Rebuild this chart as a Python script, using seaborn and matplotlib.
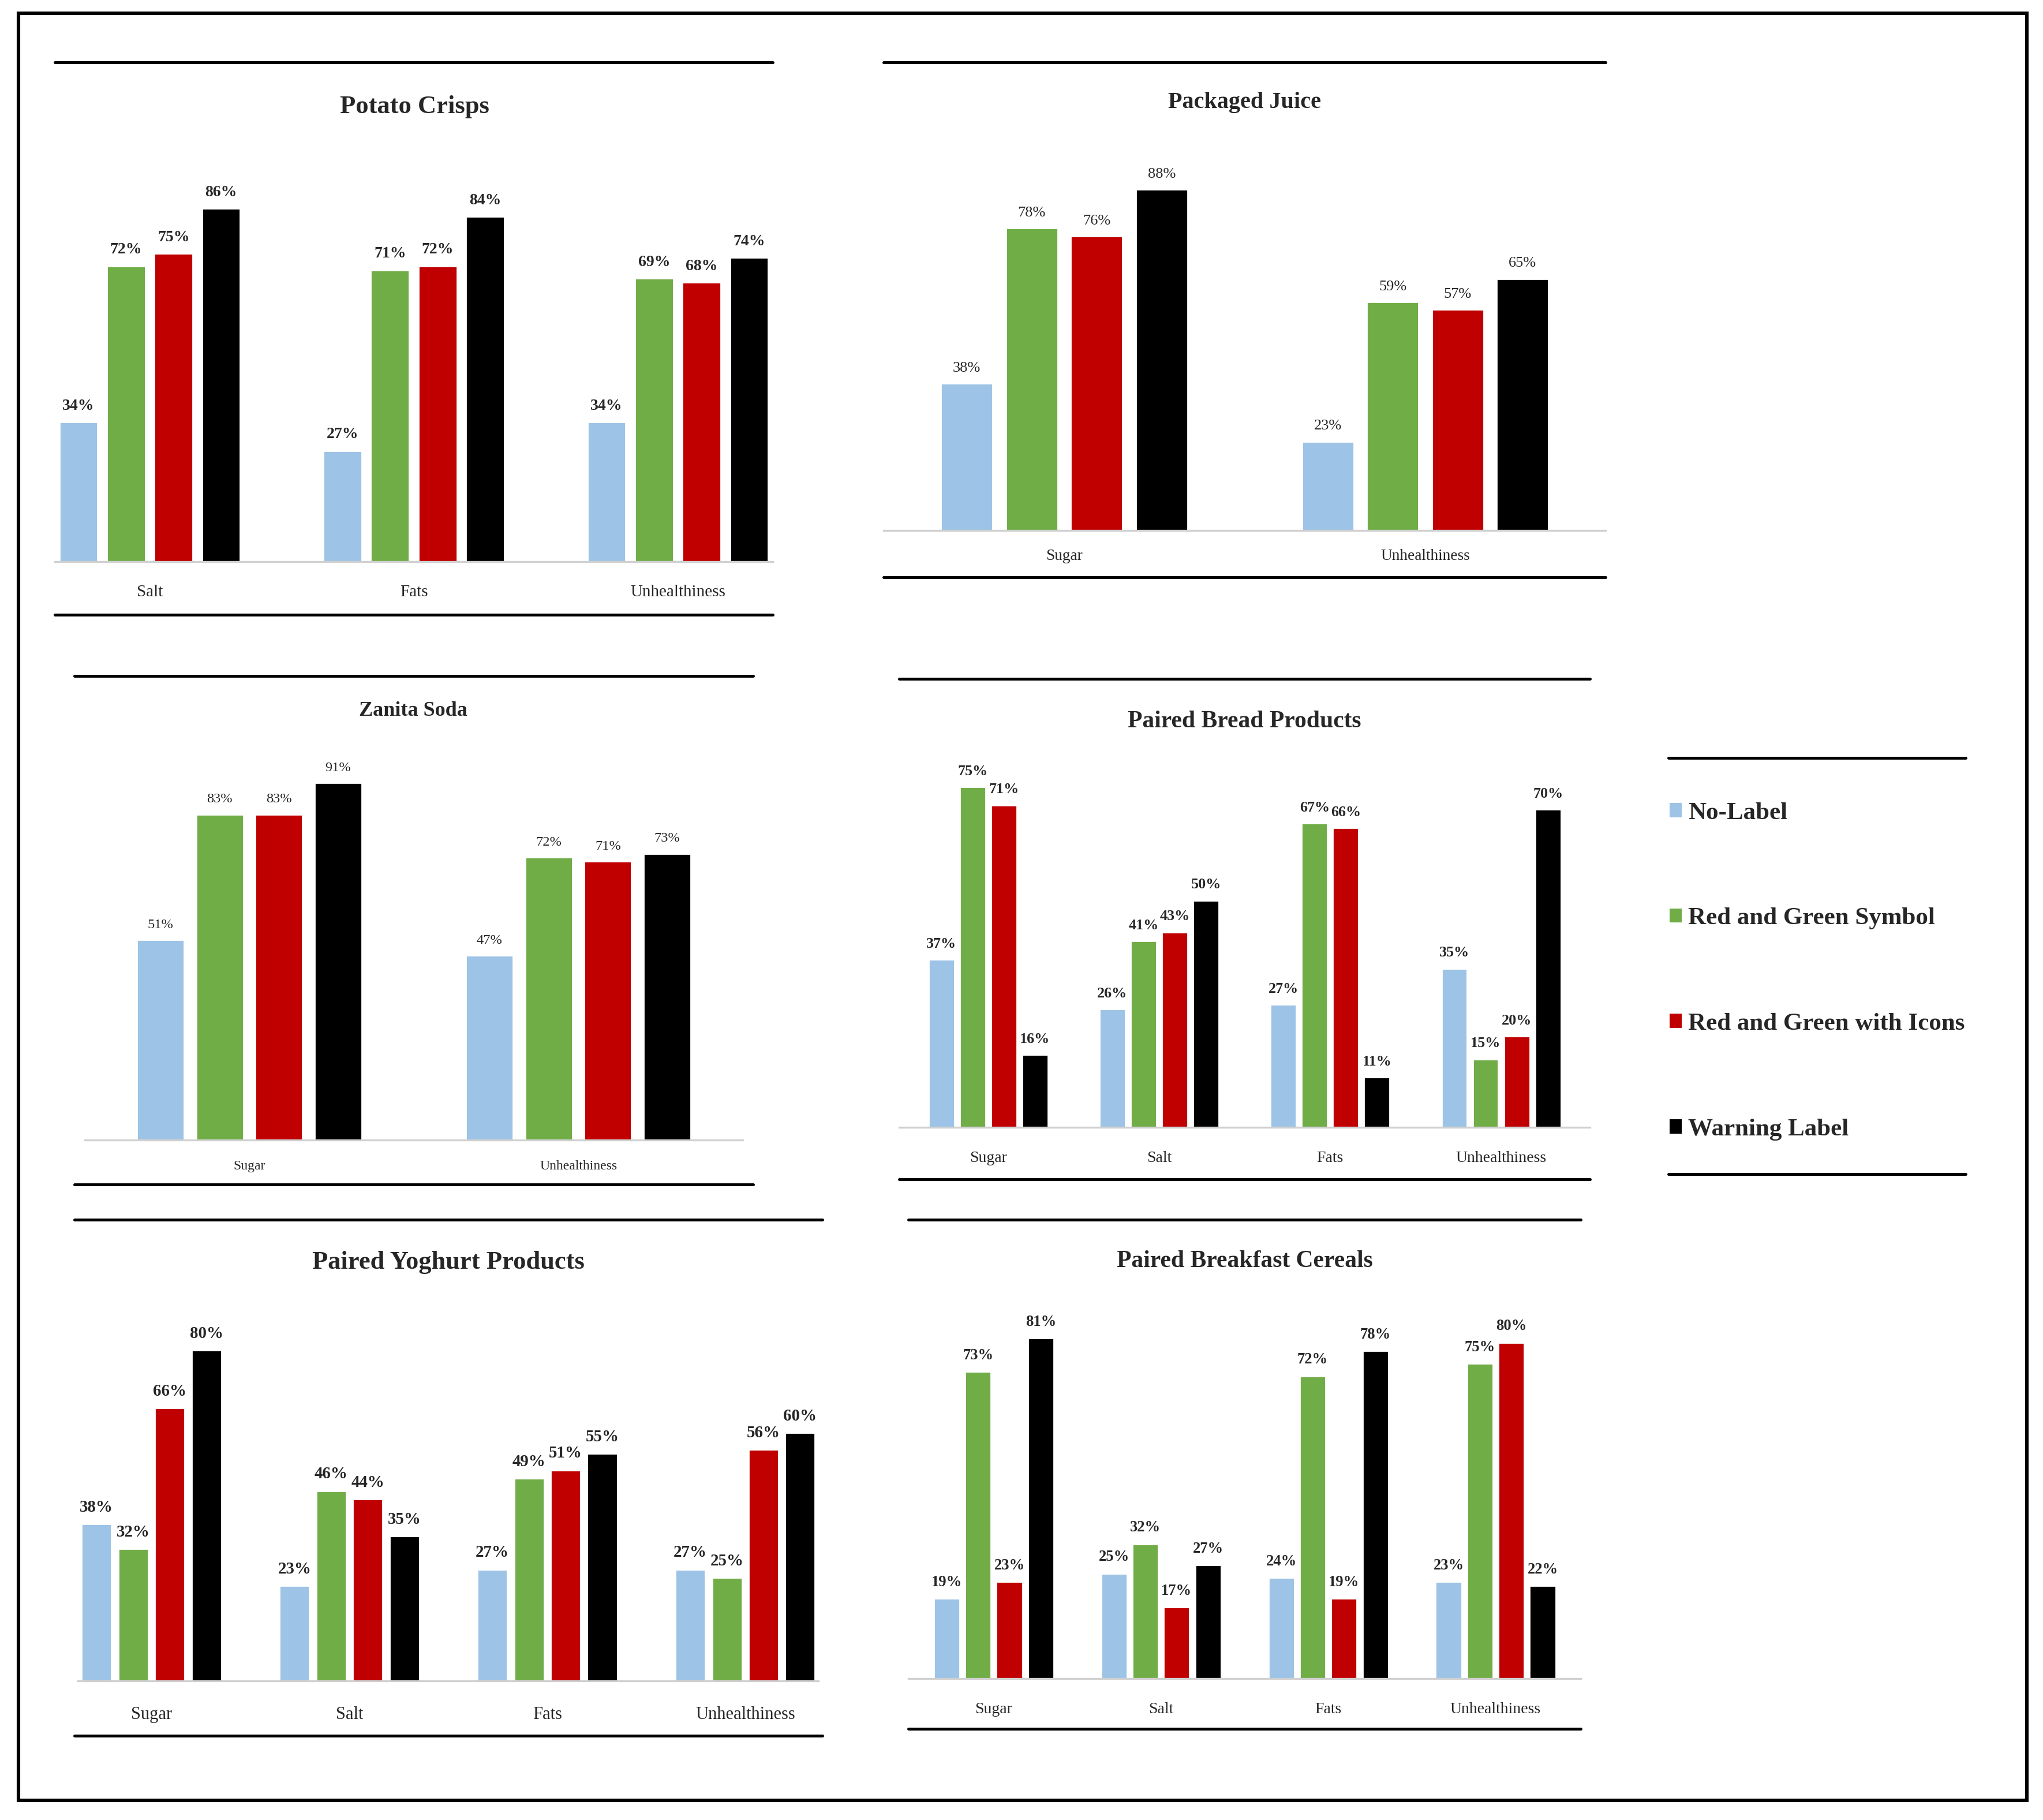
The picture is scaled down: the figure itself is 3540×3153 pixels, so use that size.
"""
Front-of-pack label study: share of respondents correctly identifying
the less healthy product, by label type, for six product pairs.
"""
import pandas as pd
import matplotlib
matplotlib.use("Agg")
import matplotlib.pyplot as plt
from matplotlib.lines import Line2D
from matplotlib.patches import Rectangle, Patch
import seaborn as sns

# ── data ───────────────────────────────────────────────────────────────

LABELS = ["No-Label", "Red and Green Symbol", "Red and Green with Icons", "Warning Label"]
COLORS = ["#9dc3e6", "#70ad47", "#c00000", "#000000"]

crisps_measures = ["Salt", "Fats", "Unhealthiness"]
crisps_no_label = [34, 27, 34]
crisps_rg_symbol = [72, 71, 69]
crisps_rg_icons = [75, 72, 68]
crisps_warning = [86, 84, 74]

juice_measures = ["Sugar", "Unhealthiness"]
juice_no_label = [38, 23]
juice_rg_symbol = [78, 59]
juice_rg_icons = [76, 57]
juice_warning = [88, 65]

soda_measures = ["Sugar", "Unhealthiness"]
soda_no_label = [51, 47]
soda_rg_symbol = [83, 72]
soda_rg_icons = [83, 71]
soda_warning = [91, 73]

bread_measures = ["Sugar", "Salt", "Fats", "Unhealthiness"]
bread_no_label = [37, 26, 27, 35]
bread_rg_symbol = [75, 41, 67, 15]
bread_rg_icons = [71, 43, 66, 20]
bread_warning = [16, 50, 11, 70]

yoghurt_measures = ["Sugar", "Salt", "Fats", "Unhealthiness"]
yoghurt_no_label = [38, 23, 27, 27]
yoghurt_rg_symbol = [32, 46, 49, 25]
yoghurt_rg_icons = [66, 44, 51, 56]
yoghurt_warning = [80, 35, 55, 60]

cereal_measures = ["Sugar", "Salt", "Fats", "Unhealthiness"]
cereal_no_label = [19, 25, 24, 23]
cereal_rg_symbol = [73, 32, 72, 75]
cereal_rg_icons = [23, 17, 19, 80]
cereal_warning = [81, 27, 78, 22]


def long_df(measures, *series):
    rows = []
    for lab, vals in zip(LABELS, series):
        for m, v in zip(measures, vals):
            rows.append({"measure": m, "label": lab, "value": v})
    return pd.DataFrame(rows)


# ── layout (reference measured on a 1568 x 1400 grid) ─────────────────
W, H = 1568, 1400
S = 3541 / W
DPI = 200
PX_PT = DPI / 72

PANELS = [
    dict(title="Potato Crisps", df=long_df(crisps_measures, crisps_no_label, crisps_rg_symbol, crisps_rg_icons, crisps_warning),
         x0=42, x1=593, base=432, scale=3.16, ty=82, tcx=318, top=48, bot=473,
         xlim=(-0.36, 2.36), width=0.72, gap=0.19, tfs=16, lfs=10, lbold=True, xfs=10.5, xoff=25),
    dict(title="Packaged Juice", df=long_df(juice_measures, juice_no_label, juice_rg_symbol, juice_rg_icons, juice_warning),
         x0=678, x1=1232, base=408, scale=2.98, ty=79, tcx=955, top=48, bot=444,
         xlim=(-0.5, 1.5), width=0.72, gap=0.2, tfs=14.5, lfs=9.5, lbold=False, xfs=9.8, xoff=21),
    dict(title="Zanita Soda", df=long_df(soda_measures, soda_no_label, soda_rg_symbol, soda_rg_icons, soda_warning),
         x0=65, x1=570, base=877, scale=3.02, ty=547, tcx=317, top=520, bot=911, lx=(57, 578),
         xlim=(-0.5, 1.5), width=0.72, gap=0.2, tfs=13, lfs=8.8, lbold=False, xfs=8.5, xoff=21),
    dict(title="Paired Bread Products", df=long_df(bread_measures, bread_no_label, bread_rg_symbol, bread_rg_icons, bread_warning),
         x0=690, x1=1220, base=867, scale=3.49, ty=555, tcx=955, top=522, bot=907,
         xlim=(-0.52, 3.52), width=0.73, gap=0.17, tfs=15, lfs=9.4, lbold=True, xfs=10, xoff=25),
    dict(title="Paired Yoghurt Products", df=long_df(yoghurt_measures, yoghurt_no_label, yoghurt_rg_symbol, yoghurt_rg_icons, yoghurt_warning),
         x0=60, x1=628, base=1293, scale=3.18, ty=971, tcx=344, top=938, bot=1335, lx=(57, 631),
         xlim=(-0.37, 3.37), width=0.74, gap=0.18, tfs=16, lfs=10.4, lbold=True, xfs=11, xoff=27),
    dict(title="Paired Breakfast Cereals", df=long_df(cereal_measures, cereal_no_label, cereal_rg_symbol, cereal_rg_icons, cereal_warning),
         x0=697, x1=1213, base=1291, scale=3.23, ty=970, tcx=955, top=938, bot=1330,
         xlim=(-0.51, 3.51), width=0.75, gap=0.17, tfs=15, lfs=9.6, lbold=True, xfs=10, xoff=25),
]

sns.set_theme(style="white")
plt.rcParams["font.family"] = ["Liberation Serif", "DejaVu Serif"]

fig = plt.figure(figsize=(3541 / DPI, 3153 / DPI), dpi=DPI)


def fy(y):
    return 1 - y / H


def hline(x0, x1, y, lw=1.8):
    fig.add_artist(Line2D([x0 / W, x1 / W], [fy(y), fy(y)], color="black", lw=lw,
                          transform=fig.transFigure))


for p in PANELS:
    ax = fig.add_axes([p["x0"] / W, fy(p["base"]), (p["x1"] - p["x0"]) / W, 100 * p["scale"] / H])
    sns.barplot(data=p["df"], x="measure", y="value", hue="label", hue_order=LABELS,
                palette=COLORS, width=p["width"], gap=p["gap"], saturation=1,
                legend=False, ax=ax)
    ax.set_ylim(0, 100)
    ax.set_xlim(*p["xlim"])
    ax.set_facecolor("none")
    ax.set_xlabel("")
    ax.set_ylabel("")
    ax.set_yticks([])
    for side in ["top", "right", "left"]:
        ax.spines[side].set_visible(False)
    ax.spines["bottom"].set_color("#d0d0d0")
    ax.spines["bottom"].set_linewidth(1.2)
    pad = p["xoff"] * S / PX_PT - 0.55 * p["xfs"]
    ax.tick_params(axis="x", length=0, pad=pad, labelsize=p["xfs"])
    for c in ax.containers:
        ax.bar_label(c, fmt="%d%%", padding=5.5, fontsize=p["lfs"],
                     fontweight="bold" if p["lbold"] else "normal")

    fig.text(p["tcx"] / W, fy(p["ty"]), p["title"], ha="center", va="center",
             fontsize=p["tfs"], fontweight="bold")
    lx0, lx1 = p.get("lx", (p["x0"], p["x1"]))
    hline(lx0, lx1, p["top"])
    hline(lx0, lx1, p["bot"])

# ── legend ──
handles = [Patch(facecolor=c, edgecolor="none") for c in COLORS]
fig.legend(handles, LABELS, loc="upper left", bbox_to_anchor=(1281 / W, fy(617)),
           frameon=False, prop={"weight": "bold", "size": 15.5},
           handlelength=0.5, handleheight=0.5, handletextpad=0.25,
           labelspacing=3.36, borderaxespad=0, borderpad=0)
hline(1280, 1508, 583)
hline(1280, 1508, 903)

# ── outer border ──
fig.add_artist(Rectangle((14 / W, fy(1385)), (1555 - 14) / W, (1385 - 10) / H,
                         fill=False, lw=2.2, edgecolor="black", transform=fig.transFigure))

fig.savefig("out.png", dpi=DPI)
